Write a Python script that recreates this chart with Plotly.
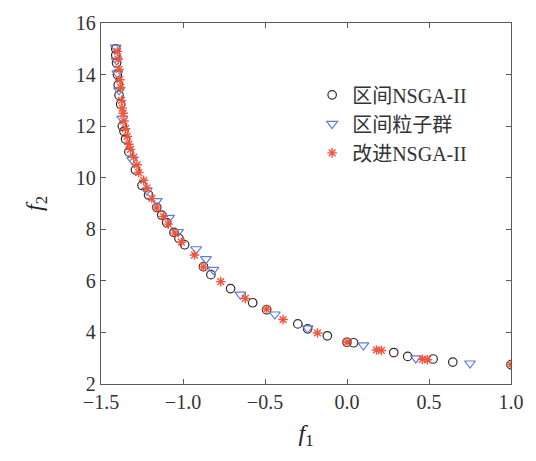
import plotly.graph_objects as go

# Pareto fronts (f1, f2) for the three optimisation methods
interval_nsga_f1 = [-1.41, -1.41, -1.405, -1.40, -1.395, -1.39, -1.38, -1.37, -1.36, -1.35,
                    -1.33, -1.29, -1.25, -1.21, -1.16, -1.13, -1.10, -1.055, -1.025, -0.99,
                    -0.875, -0.83, -0.71, -0.575, -0.49, -0.30, -0.24, -0.12, 0.0, 0.04,
                    0.285, 0.37, 0.525, 0.645, 1.0]
interval_nsga_f2 = [15.0, 14.75, 14.45, 14.0, 13.6, 13.2, 12.85, 12.0, 11.8, 11.5,
                    11.0, 10.3, 9.7, 9.33, 8.85, 8.55, 8.26, 7.88, 7.65, 7.4,
                    6.55, 6.24, 5.7, 5.15, 4.88, 4.33, 4.14, 3.87, 3.62, 3.6,
                    3.22, 3.07, 2.97, 2.85, 2.75]

interval_pso_f1 = [-1.41, -1.405, -1.40, -1.39, -1.37, -1.31, -1.22, -1.16, -1.085, -1.03,
                   -0.92, -0.86, -0.815, -0.65, -0.44, -0.24, 0.10, 0.42, 0.75]
interval_pso_f2 = [15.05, 14.55, 14.05, 13.4, 12.3, 10.7, 9.5, 9.1, 8.45, 7.9,
                   7.23, 6.85, 6.43, 5.47, 4.7, 4.16, 3.5, 3.0, 2.8]

improved_nsga_f1 = [-1.40, -1.395, -1.39, -1.385, -1.38, -1.375, -1.37, -1.365, -1.36, -1.35,
                    -1.34, -1.33, -1.32, -1.30, -1.28, -1.27, -1.24, -1.22, -1.19, -1.16,
                    -1.12, -1.09, -1.05, -1.01, -0.93, -0.875, -0.77, -0.62, -0.49, -0.39,
                    -0.18, 0.0, 0.18, 0.21, 0.46, 0.49, 1.0]
improved_nsga_f2 = [14.9, 14.6, 14.2, 13.8, 13.5, 13.0, 12.7, 12.5, 12.2, 11.9,
                    11.6, 11.3, 11.1, 10.8, 10.5, 10.2, 9.9, 9.6, 9.2, 8.83,
                    8.5, 8.2, 7.85, 7.5, 7.0, 6.54, 5.97, 5.32, 4.9, 4.5,
                    3.98, 3.62, 3.32, 3.3, 2.96, 2.94, 2.75]

x_ticks = [-1.5, -1.0, -0.5, 0.0, 0.5, 1.0]
y_ticks = [2, 4, 6, 8, 10, 12, 14, 16]

serif = "Liberation Serif, Times New Roman, Noto Sans CJK SC, serif"
axis_color = "#5a5a5a"

fig = go.Figure()
fig.add_trace(go.Scatter(
    x=interval_nsga_f1, y=interval_nsga_f2, mode="markers", name="区间NSGA-II",
    marker=dict(symbol="circle-open", size=8.5, color="#3a2626", line=dict(width=1.2, color="#3a2626")),
))
fig.add_trace(go.Scatter(
    x=interval_pso_f1, y=interval_pso_f2, mode="markers", name="区间粒子群",
    marker=dict(symbol="triangle-down-open", size=9.5, color="#5f7fd0", line=dict(width=1.2, color="#5f7fd0")),
))
fig.add_trace(go.Scatter(
    x=improved_nsga_f1, y=improved_nsga_f2, mode="markers", name="改进NSGA-II",
    marker=dict(symbol="asterisk-open", size=8, color="#f0553c", line=dict(width=1.4, color="#f0553c")),
))

axis_common = dict(
    showline=True, linecolor=axis_color, linewidth=1.3, mirror="ticks",
    ticks="inside", ticklen=5, tickwidth=1.3, tickcolor=axis_color,
    showgrid=False, zeroline=False,
    tickfont=dict(family=serif, size=20, color="#333333"),
)

fig.update_xaxes(
    range=[-1.5, 1.0], tickvals=x_ticks, tickformat=".1f",
    title=dict(text="<i>f</i><sub>1</sub>", font=dict(family=serif, size=24, color="#222222"), standoff=12),
    **axis_common,
)
fig.update_yaxes(
    range=[2, 16], tickvals=y_ticks,
    title=dict(text="<i>f</i><sub>2</sub>", font=dict(family=serif, size=24, color="#222222"), standoff=26),
    **axis_common,
)

fig.update_layout(
    width=536, height=461,
    margin=dict(l=101, r=19, t=17, b=77),
    paper_bgcolor="white", plot_bgcolor="white",
    showlegend=True,
    legend=dict(
        x=0.515, y=0.855, xanchor="left", yanchor="top",
        bgcolor="rgba(0,0,0,0)", borderwidth=0,
        font=dict(family=serif, size=20, color="#333333"),
        tracegroupgap=0, itemwidth=30,
    ),
)

fig.write_html("out.html")
